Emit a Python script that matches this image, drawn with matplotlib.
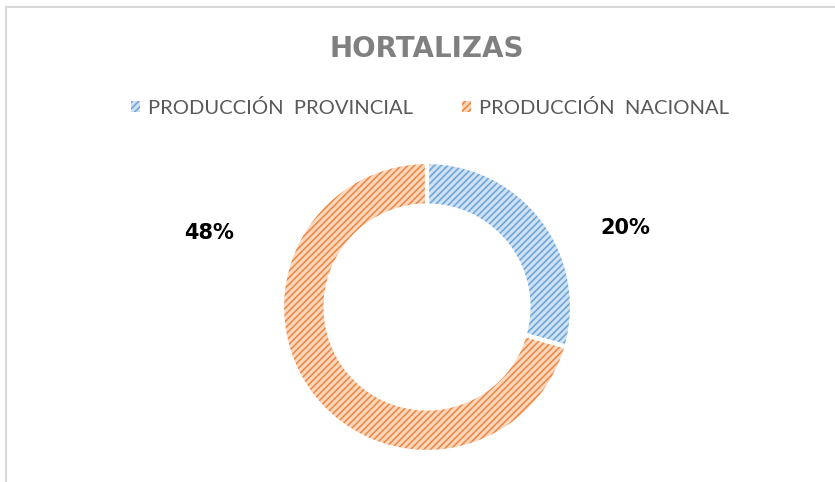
import matplotlib.pyplot as plt
from matplotlib.patches import Rectangle, Patch

# datos
categorias = ["PRODUCCIÓN  PROVINCIAL", "PRODUCCIÓN  NACIONAL"]
valores = [20, 48]
etiquetas = ["20%", "48%"]

colores_fondo = ["#cfe2f4", "#fad8c0"]
colores_trama = ["#6fa6da", "#ef8a44"]

plt.rcParams['hatch.linewidth'] = 1.2

fig = plt.figure(figsize=(8.35, 4.82), dpi=100)

# ejes del anillo: centro (427, 307) px, radio 145 px
ax = fig.add_axes([282 / 835, 30 / 482, 290 / 835, 290 / 482])

cunas, _ = ax.pie(valores, startangle=90, counterclock=False, radius=1,
                  wedgeprops=dict(width=0.3, linewidth=0))
for c, fondo, trama in zip(cunas, colores_fondo, colores_trama):
    c.set_facecolor(fondo)
    c.set_edgecolor(trama)
    c.set_hatch('/////')

# separacion blanca entre porciones
ax.pie(valores, startangle=90, counterclock=False, radius=1,
       colors=['none', 'none'],
       wedgeprops=dict(width=0.3, edgecolor='white', linewidth=3))

ax.set_xlim(-1, 1)
ax.set_ylim(-1, 1)
ax.axis('off')

# etiquetas de porcentaje
ax.text(1.37, 0.545, etiquetas[0], ha='center', va='center',
        fontsize=15, fontweight='bold', color='black', clip_on=False)
ax.text(-1.50, 0.51, etiquetas[1], ha='center', va='center',
        fontsize=15, fontweight='bold', color='black', clip_on=False)

# titulo
fig.text(427 / 835, 1 - 49 / 482, "HORTALIZAS", ha='center', va='center',
         fontsize=20, fontweight='bold', color='#808080', family='DejaVu Sans')

# leyenda
handles = [Patch(facecolor=f, edgecolor=t, hatch='/////', linewidth=0)
           for f, t in zip(colores_fondo, colores_trama)]
fig.legend(handles, categorias, loc='center', ncol=2,
           bbox_to_anchor=(430 / 835, 1 - 108 / 482), frameon=False,
           handlelength=0.45, handleheight=0.45, handletextpad=0.4,
           columnspacing=2.4, prop={'family': 'Lato', 'size': 14.5},
           labelcolor='#595959')

# borde del grafico
fig.patches.append(Rectangle((6 / 835, -0.1), 1.2, 1.1 - 7 / 482,
                             transform=fig.transFigure, fill=False,
                             edgecolor='#d9d9d9', linewidth=1.5))

fig.savefig('out.png', dpi=100)
